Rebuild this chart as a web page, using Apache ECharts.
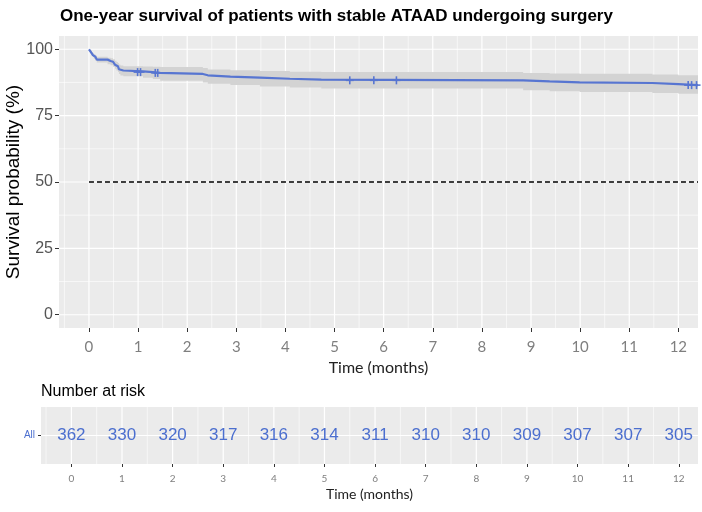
<!DOCTYPE html>
<html>
<head>
<meta charset="utf-8">
<script src="https://cdn.jsdelivr.net/npm/echarts@6/dist/echarts.min.js"></script>
<style>
  html, body { margin: 0; padding: 0; background: #fff; }
  #chart { width: 702px; height: 512px; }
</style>
</head>
<body>
<div id="chart"></div>
<script>
// tick labels
const months = [0, 1, 2, 3, 4, 5, 6, 7, 8, 9, 10, 11, 12];
const yTicks = [0, 25, 50, 75, 100];

// Kaplan-Meier step curve (value holds from each time to the next)
const kmTime = [0, 0.02, 0.04, 0.06, 0.08, 0.10, 0.13, 0.16, 0.38, 0.44, 0.49, 0.53, 0.56, 0.59,
  0.61, 0.64, 0.70, 1.10, 1.30, 1.45, 2.32, 2.42, 2.88, 3.48, 4.09, 4.73, 8.84, 9.38, 9.99,
  11.47, 12.0, 12.4];
const kmSurv = [100, 99.4, 98.9, 98.3, 97.8, 97.2, 96.7, 96.1, 95.6, 95.3, 94.8, 94.2, 93.6, 93.1,
  92.5, 92.0, 91.7, 91.4, 91.1, 90.7, 90.2, 89.7, 89.3, 88.9, 88.6, 88.3, 87.9, 87.5, 87.3,
  86.9, 86.5, 86.5];
const kmLower = [100, 99.0, 98.3, 97.6, 97.0, 96.3, 95.7, 95.0, 94.4, 94.0, 93.4, 92.7, 92.0, 91.4,
  90.7, 90.1, 89.8, 89.3, 88.8, 88.1, 87.5, 87.0, 86.5, 86.0, 85.6, 85.2, 84.6, 84.2, 83.9,
  83.5, 83.2, 83.2];
const kmUpper = [100, 99.8, 99.5, 99.0, 98.6, 98.1, 97.7, 97.2, 96.8, 96.6, 96.2, 95.7, 95.2, 94.8,
  94.3, 93.9, 93.6, 93.5, 93.4, 93.3, 92.9, 92.4, 92.1, 91.8, 91.5, 91.4, 91.1, 90.9, 90.8,
  90.5, 90.2, 90.2];

// censored observations
const censorTime = [0.99, 1.05, 1.35, 1.40, 5.31, 5.80, 6.26, 12.2, 12.27, 12.37];
const censorSurv = [91.4, 91.4, 91.1, 91.1, 88.3, 88.3, 88.3, 86.5, 86.5, 86.5];

// number at risk
const atRisk = [362, 330, 320, 317, 316, 314, 311, 310, 310, 309, 307, 307, 305];

const blue = '#5775d1';
const blueText = '#4c6fcf';
const panelBg = '#ebebeb';
const sans = 'Liberation Sans, Arial, sans-serif';
const narrow = 'Lato, sans-serif';

const chart = echarts.init(document.getElementById('chart'));

// white panel grid lines for one grid
function panelLines(xMajor, yMajor, rowCat) {
  const lines = [];
  xMajor.forEach(v => {
    lines.push({ dir: 'v', v: v, w: 1.2 });
    lines.push({ dir: 'v', v: v - 0.5, w: 0.6 });
  });
  if (rowCat) {
    lines.push({ dir: 'h', v: 0, w: 1.2 });
  } else {
    yMajor.forEach((v, i) => {
      lines.push({ dir: 'h', v: v, w: 1.2 });
      if (i < yMajor.length - 1) lines.push({ dir: 'h', v: (v + yMajor[i + 1]) / 2, w: 0.6 });
    });
  }
  return lines;
}
const mainLines = panelLines(months, yTicks, false);
const tableLines = panelLines(months, null, true);

function lineRenderer(lines, yRef) {
  return function (params, api) {
    const ln = lines[params.dataIndex];
    const cs = params.coordSys;
    let shape;
    if (ln.dir === 'v') {
      const x = api.coord([ln.v, yRef])[0];
      if (x < cs.x || x > cs.x + cs.width) return;
      shape = { x1: x, y1: cs.y, x2: x, y2: cs.y + cs.height };
    } else {
      const y = api.coord([0, ln.v])[1];
      shape = { x1: cs.x, y1: y, x2: cs.x + cs.width, y2: y };
    }
    return { type: 'line', shape: shape, style: { stroke: '#ffffff', lineWidth: ln.w } };
  };
}

const option = {
  animation: false,
  backgroundColor: '#ffffff',
  title: [
    {
      text: 'One-year survival of patients with stable ATAAD undergoing surgery',
      left: 55, top: 3,
      textStyle: { fontFamily: sans, fontSize: 17, fontWeight: 'bold', color: '#000' }
    },
    {
      text: 'Number at risk',
      left: 36, top: 379,
      textStyle: { fontFamily: sans, fontSize: 16, fontWeight: 'normal', color: '#000' }
    }
  ],
  grid: [
    { left: 59, top: 36, right: 4, height: 292, show: true, backgroundColor: panelBg, borderWidth: 0, outerBoundsMode: 'none', containLabel: false },
    { left: 41, top: 407, right: 4, height: 57, show: true, backgroundColor: panelBg, borderWidth: 0, outerBoundsMode: 'none', containLabel: false }
  ],
  xAxis: [
    {
      type: 'value', gridIndex: 0, min: -0.61, max: 12.4,
      name: 'Time (months)', nameLocation: 'middle', nameGap: 30,
      nameTextStyle: { fontFamily: narrow, fontSize: 16, color: '#222' },
      axisLine: { show: false, onZero: false },
      splitLine: { show: false },
      axisTick: { show: true, length: 4, customValues: months, lineStyle: { color: '#333', width: 1 } },
      axisLabel: { customValues: months, margin: 12, fontFamily: narrow, fontSize: 15, color: '#7f7f7f' }
    },
    {
      type: 'value', gridIndex: 1, min: -0.6, max: 12.38,
      name: 'Time (months)', nameLocation: 'middle', nameGap: 23,
      nameTextStyle: { fontFamily: narrow, fontSize: 14, color: '#222' },
      axisLine: { show: false, onZero: false },
      splitLine: { show: false },
      axisTick: { show: true, length: 3, customValues: months, lineStyle: { color: '#333', width: 1 } },
      axisLabel: { customValues: months, margin: 10, fontFamily: narrow, fontSize: 10, color: '#7f7f7f' }
    }
  ],
  yAxis: [
    {
      type: 'value', gridIndex: 0, min: -5, max: 105,
      name: 'Survival probability (%)', nameLocation: 'middle', nameGap: 36, nameRotate: 90,
      nameMoveOverlap: false,
      nameTextStyle: { fontFamily: sans, fontSize: 19, color: '#000' },
      axisLine: { show: false, onZero: false },
      splitLine: { show: false },
      axisTick: { show: true, length: 4, customValues: yTicks, lineStyle: { color: '#333', width: 1 } },
      axisLabel: { customValues: yTicks, margin: 6, fontFamily: sans, fontSize: 16, color: '#555' }
    },
    {
      type: 'category', gridIndex: 1, data: ['All'],
      axisLine: { show: false, onZero: false },
      splitLine: { show: false },
      axisTick: { show: true, length: 3, alignWithLabel: true, lineStyle: { color: '#333', width: 1 } },
      axisLabel: { margin: 6, fontFamily: sans, fontSize: 10, color: blueText }
    }
  ],
  series: [
    {
      type: 'custom', name: 'mainGrid', xAxisIndex: 0, yAxisIndex: 0, z: 1, silent: true,
      renderItem: lineRenderer(mainLines, 0),
      data: mainLines.map(() => [0, 0])
    },
    {
      type: 'custom', name: 'tableGrid', xAxisIndex: 1, yAxisIndex: 1, z: 1, silent: true,
      renderItem: lineRenderer(tableLines, 0),
      data: tableLines.map(() => [0, 0])
    },
    {
      type: 'custom', name: 'ci', xAxisIndex: 0, yAxisIndex: 0, z: 2, silent: true,
      renderItem: function (params, api) {
        const pts = [];
        const n = kmTime.length;
        for (let i = 0; i < n; i++) {
          const tNext = i < n - 1 ? kmTime[i + 1] : kmTime[i];
          pts.push(api.coord([kmTime[i], kmUpper[i]]));
          pts.push(api.coord([tNext, kmUpper[i]]));
        }
        for (let i = n - 1; i >= 0; i--) {
          const tNext = i < n - 1 ? kmTime[i + 1] : kmTime[i];
          pts.push(api.coord([tNext, kmLower[i]]));
          pts.push(api.coord([kmTime[i], kmLower[i]]));
        }
        return { type: 'polygon', shape: { points: pts }, style: { fill: '#d3d3d3' } };
      },
      data: [[0, 100]]
    },
    {
      type: 'line', name: 'median', xAxisIndex: 0, yAxisIndex: 0, z: 3, silent: true,
      showSymbol: false,
      data: [[0, 50], [12.4, 50]],
      lineStyle: { color: '#000', width: 1.3, type: [5, 3] }
    },
    {
      type: 'line', name: 'All', xAxisIndex: 0, yAxisIndex: 0, z: 4, silent: true,
      step: 'end', showSymbol: false,
      data: kmTime.map((t, i) => [t, kmSurv[i]]),
      lineStyle: { color: blue, width: 2.2 }
    },
    {
      type: 'custom', name: 'censor', xAxisIndex: 0, yAxisIndex: 0, z: 5, silent: true,
      renderItem: function (params, api) {
        const p = api.coord([api.value(0), api.value(1)]);
        const h = 4;
        return {
          type: 'group',
          children: [
            { type: 'line', shape: { x1: p[0] - h, y1: p[1], x2: p[0] + h, y2: p[1] }, style: { stroke: blue, lineWidth: 1.6 } },
            { type: 'line', shape: { x1: p[0], y1: p[1] - h, x2: p[0], y2: p[1] + h }, style: { stroke: blue, lineWidth: 1.6 } }
          ]
        };
      },
      data: censorTime.map((t, i) => [t, censorSurv[i]])
    },
    {
      type: 'custom', name: 'risk', xAxisIndex: 1, yAxisIndex: 1, z: 5, silent: true,
      renderItem: function (params, api) {
        const p = api.coord([api.value(0), 0]);
        return {
          type: 'text', x: p[0], y: p[1],
          style: {
            text: String(atRisk[params.dataIndex]),
            fill: blueText, fontSize: 17, fontFamily: sans,
            align: 'center', verticalAlign: 'middle'
          }
        };
      },
      data: months.map(m => [m, 0])
    }
  ]
};

chart.setOption(option);
</script>
</body>
</html>
